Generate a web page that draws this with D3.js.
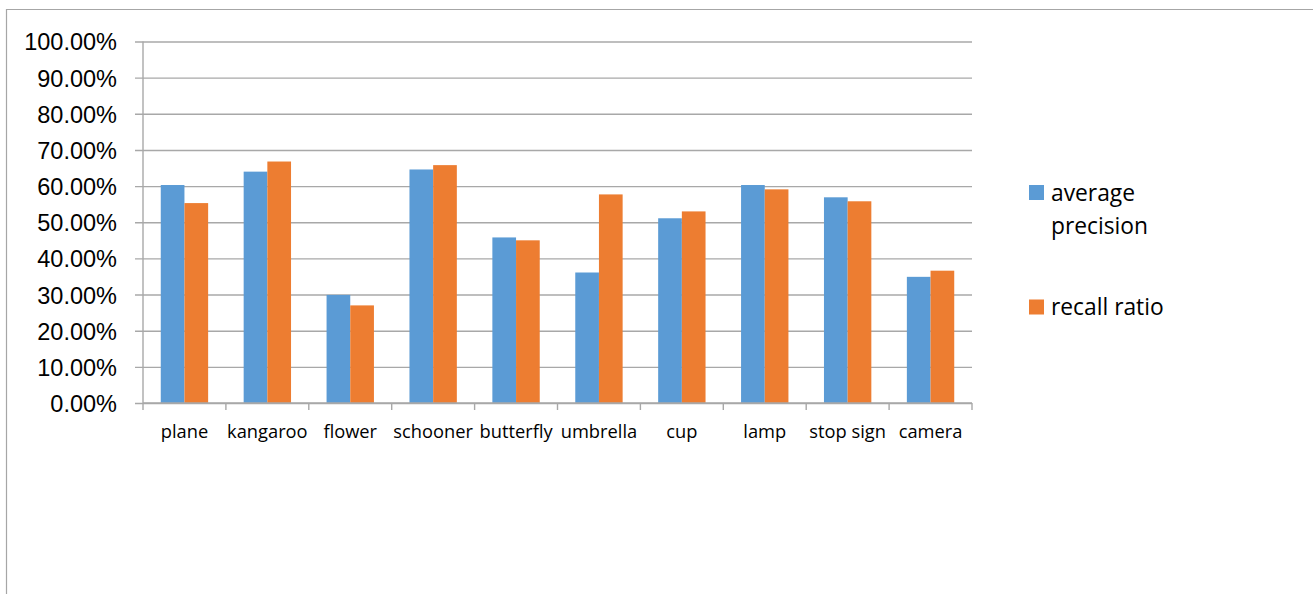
<!DOCTYPE html>
<html>
<head>
<meta charset="utf-8">
<script src="https://cdn.jsdelivr.net/npm/d3@7"></script>
<style>
  html, body { margin: 0; padding: 0; background: #fff; }
  svg { display: block; font-family: "Open Sans", sans-serif; }
</style>
</head>
<body>
<svg id="chart" width="1313" height="594"></svg>
<script>
// Per-class retrieval results
const categories = ["plane", "kangaroo", "flower", "schooner", "butterfly", "umbrella", "cup", "lamp", "stop sign", "camera"];
const seriesNames = ["average precision", "recall ratio"];
const averagePrecision = [0.603, 0.640, 0.299, 0.646, 0.458, 0.361, 0.511, 0.603, 0.569, 0.349];
const recallRatio = [0.553, 0.668, 0.270, 0.658, 0.450, 0.577, 0.530, 0.591, 0.558, 0.366];
const yTicks = [0, 0.1, 0.2, 0.3, 0.4, 0.5, 0.6, 0.7, 0.8, 0.9, 1.0];
const colors = ["#5B9BD5", "#ED7D31"];

const svg = d3.select("#chart");
const plot = { left: 143, right: 972, top: 41.5, bottom: 403 };
const gridColor = "#a8a8a8";

// Outer chart frame (only top and left edges fall inside the view)
svg.append("path")
  .attr("d", "M6.5,594 V9.5 H1313")
  .attr("fill", "none")
  .attr("stroke", "#a6a6a6")
  .attr("stroke-width", 1.2);

const x0 = d3.scaleBand().domain(categories).range([plot.left, plot.right]).padding(0);
const x1 = d3.scaleBand().domain(seriesNames).range([0, x0.bandwidth()]).paddingInner(0).paddingOuter(0.75);
const y = d3.scaleLinear().domain([0, 1]).range([plot.bottom, plot.top]);

// Horizontal gridlines, extended left to act as tick marks
const yAxis = d3.axisLeft(y)
  .tickValues(yTicks)
  .tickSize(-(plot.right - plot.left))
  .tickPadding(0)
  .tickFormat(d => (d * 100).toFixed(2) + "%");

const gy = svg.append("g").attr("transform", `translate(${plot.left},0)`).call(yAxis);
gy.select(".domain").remove();
gy.selectAll(".tick line")
  .attr("x1", -8)
  .attr("stroke", gridColor)
  .attr("stroke-width", 1.4);
gy.selectAll(".tick text")
  .attr("x", -26)
  .attr("dy", "0.36em")
  .attr("fill", "#000")
  .style("font-size", "23.5px");

// Vertical value axis line
svg.append("line")
  .attr("x1", plot.left).attr("x2", plot.left)
  .attr("y1", plot.top).attr("y2", plot.bottom)
  .attr("stroke", gridColor).attr("stroke-width", 1.4);

// Bars
const rows = categories.map((c, i) => ({ category: c, values: [averagePrecision[i], recallRatio[i]] }));
const groups = svg.append("g").selectAll("g")
  .data(rows)
  .join("g")
  .attr("transform", d => `translate(${x0(d.category)},0)`);

groups.selectAll("rect")
  .data(d => d.values.map((v, k) => ({ key: seriesNames[k], value: v, k })))
  .join("rect")
  .attr("x", d => x1(d.key))
  .attr("width", x1.bandwidth())
  .attr("y", d => y(d.value))
  .attr("height", d => y(0) - y(d.value))
  .attr("fill", d => colors[d.k]);

// Category axis with tick marks at group boundaries
const boundaries = categories.map(c => x0(c)).concat([plot.right]);
const gx = svg.append("g");
gx.append("line")
  .attr("x1", plot.left).attr("x2", plot.right)
  .attr("y1", plot.bottom).attr("y2", plot.bottom)
  .attr("stroke", gridColor).attr("stroke-width", 1.4);
gx.selectAll("line.tick")
  .data(boundaries)
  .join("line")
  .attr("class", "tick")
  .attr("x1", d => d).attr("x2", d => d)
  .attr("y1", plot.bottom).attr("y2", plot.bottom + 7)
  .attr("stroke", gridColor).attr("stroke-width", 1.4);
gx.selectAll("text")
  .data(categories)
  .join("text")
  .attr("x", d => x0(d) + x0.bandwidth() / 2)
  .attr("y", 437.5)
  .attr("text-anchor", "middle")
  .attr("fill", "#000")
  .style("font-size", "18.3px")
  .text(d => d);

// Legend
const legend = svg.append("g");
const legendItems = [
  { lines: ["average", "precision"], color: colors[0], y: 200.5 },
  { lines: ["recall ratio"], color: colors[1], y: 315 }
];
legendItems.forEach(item => {
  legend.append("rect")
    .attr("x", 1029).attr("y", item.y - 15.5)
    .attr("width", 15).attr("height", 15)
    .attr("fill", item.color);
  const t = legend.append("text")
    .attr("x", 1051).attr("y", item.y)
    .attr("fill", "#000")
    .style("font-size", "22.8px");
  item.lines.forEach((ln, i) => {
    t.append("tspan").attr("x", 1051).attr("dy", i === 0 ? 0 : 33.5).text(ln);
  });
});
</script>
</body>
</html>
